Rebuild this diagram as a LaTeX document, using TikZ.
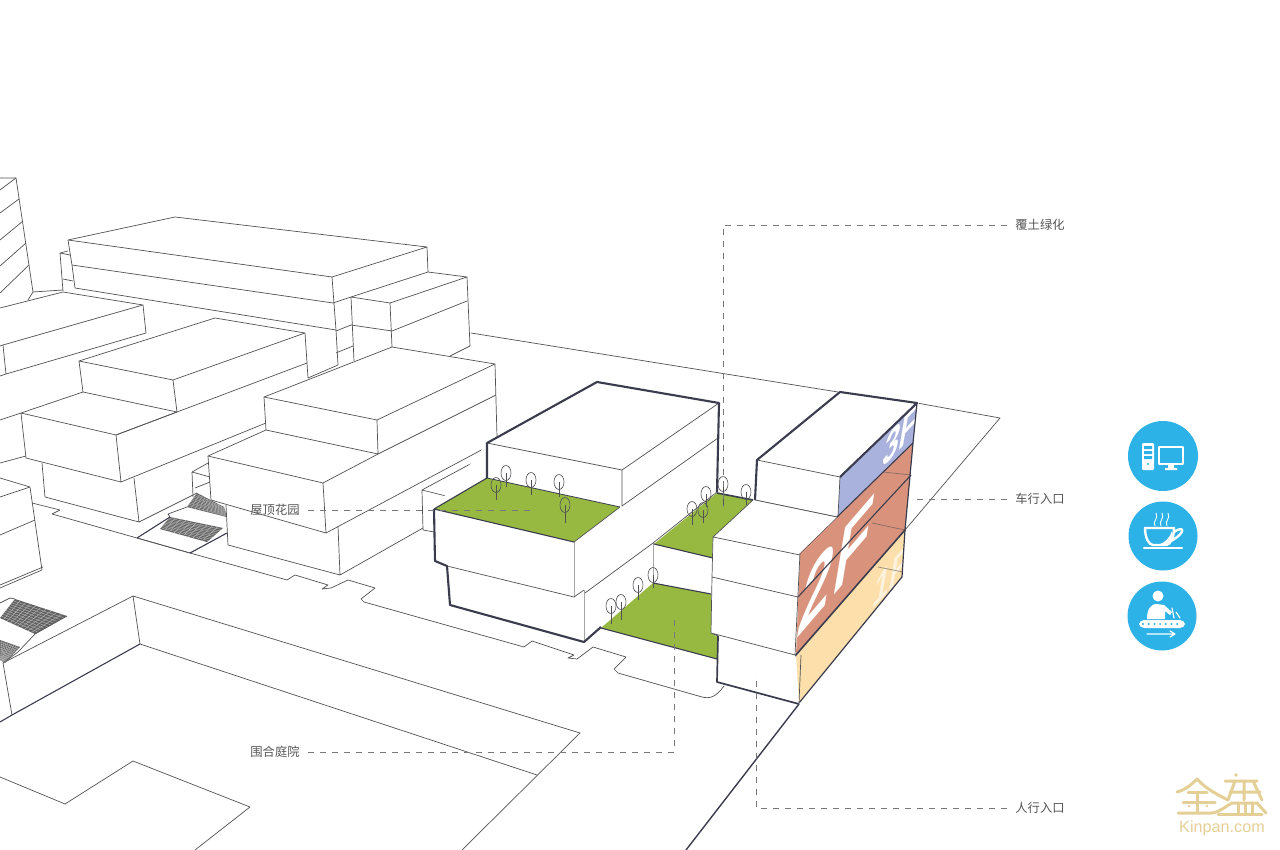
\documentclass[tikz,border=0pt]{standalone}
\usepackage{fontspec}
\setmainfont{Liberation Sans}
\newfontfamily\cjk{Noto Sans CJK SC}
\usepackage{xcolor}
\usetikzlibrary{calc}
\definecolor{thinink}{RGB}{82,82,86}
\definecolor{darkink}{RGB}{58,60,78}
\definecolor{leadergray}{RGB}{120,120,120}
\definecolor{labelgray}{RGB}{85,85,85}
\definecolor{roofgreen}{RGB}{151,185,66}
\definecolor{floorblue}{RGB}{168,178,220}
\definecolor{floorred}{RGB}{217,147,124}
\definecolor{flooryellow}{RGB}{252,223,170}
\definecolor{iconblue}{RGB}{44,178,230}
\definecolor{logogold}{RGB}{228,207,150}
\newcommand{\stairgrid}[4]{%
  \fill[black!62] (#1) -- (#2) -- (#3) -- (#4) -- cycle;
  \foreach \st in {.1,.2,...,.95}{
    \draw[white!45!gray, line width=.2pt] ($(#1)!\st!(#2)$) -- ($(#4)!\st!(#3)$);
    \draw[white!45!gray, line width=.2pt] ($(#1)!\st!(#4)$) -- ($(#2)!\st!(#3)$);
  }}
\begin{document}
\begin{tikzpicture}[x=.5pt, y=-.5pt,
  thinline/.style={draw=thinink, line width=.35pt, line join=round},
  softline/.style={draw=gray!70, line width=.45pt},
  heavyline/.style={draw=darkink, line width=1.05pt, line join=round},
  midline/.style={draw=darkink, line width=.55pt, line join=round},
  leader/.style={draw=leadergray, line width=.38pt, dash pattern=on 3pt off 3pt},
  callout/.style={text=labelgray, inner sep=4pt, font=\cjk\fontsize{6.15}{7}\selectfont},
  tree/.style={draw=thinink, line width=.3pt},
  floorlabel/.style={text=white, anchor=base west, inner sep=0pt, transform shape, font=\fontsize{48}{50}\selectfont},
  iconstroke/.style={draw=white, line width=1.2pt, line cap=round, line join=round},
  logostroke/.style={draw=logogold, line width=1.5pt, line cap=round, line join=round}]
  \useasboundingbox (0,0) rectangle (1280,850);
  \clip (0,0) rectangle (1280,850);

  % site and road
  \draw[thinline] (471,333) -- (838,392);
  \draw[thinline] (917,403) -- (1000,418) -- (905,530);
  \draw[heavyline, line width=.7pt] (799,704) -- (686,850);
  \draw[thinline] (32,503) -- (60,510) -- (52,514) -- (190,553) -- (287,580) -- (295,575) -- (328,585) -- (322,589) -- (331,588) -- (348,580) -- (375,588) -- (361,599) -- (364,602) -- (524,647) -- (532,641) -- (574,655) -- (568,658) -- (577,659) -- (593,647) -- (626,657) -- (614,669) -- (618,673) -- (702,697) .. controls (710,699) and (716,697) .. (724,686);
  \draw[thinline] (133,596) -- (580,733) -- (462,850);
  \draw[thinline] (140,644) -- (537,775);
  \draw[thinline] (3,663) -- (133,596) -- (140,644);
  \draw[thinline] (3,663) -- (12,715);
  \draw[midline] (140,644) -- (12,715) -- (0,722);
  \draw[thinline] (0,777) -- (65,804) -- (133,761) -- (250,807) -- (195,850);

  % stairs
  \stairgrid{197,493}{224,507}{227,517}{187,507}
  \stairgrid{170,517}{223,528}{207,542}{160,529}
  \stairgrid{15,599}{67,616}{35,634}{0,618}
  \stairgrid{0,640}{20,647}{5,663}{0,660}
  \draw[midline] (137,538) -- (170,517);
  \draw[midline] (190,553) -- (227,533);
  \draw[thinline] (137,538) -- (190,553);
  \draw[thinline] (168,514) -- (187,507) (170,517) -- (168,514);
  \draw[thinline] (192,472) -- (208,463) (192,472) -- (193,497) (192,472) -- (210,477) (195,488) -- (210,482);
  \draw[thinline] (0,603) -- (10,598) -- (15,599) (67,616) -- (35,634) -- (18,652) -- (3,663);

  % tower
  \draw[thinline] (0,178) -- (16,178) -- (33,292) -- (28,300) (33,292) -- (63,290);
  \draw[thinline] (16,178) -- (0,190) (19,199) -- (0,213) (23,221) -- (0,240) (26,243) -- (0,266) (29,265) -- (0,293);

  % long block at the back
  \draw[thinline] (68,240) -- (175,217) -- (427,247) -- (332,277) -- cycle;
  \draw[thinline] (68,240) -- (72,265) -- (75,288) -- (336,330) (72,265) -- (333,303);
  \draw[thinline] (332,277) -- (336,330) -- (338,365);
  \draw[thinline] (427,247) -- (428,272);
  \draw[thinline] (60,253) -- (68,251) (60,253) -- (70,255) (60,253) -- (63,291) (63,279) -- (73,281);
  \draw[thinline] (333,303) -- (351,297) (336,331) -- (351,325) (336,353) -- (353,346);
  \draw[thinline] (351,297) -- (428,272) -- (467,277) -- (390,303) -- cycle;
  \draw[thinline] (467,277) -- (470,346) -- (450,356) (467,301) -- (392,331) (390,303) -- (392,347) (351,297) -- (354,361) (351,325) -- (392,331);

  % blocks on the left
  \draw[thinline] (0,308) -- (63,292) -- (143,305) -- (3,345) -- (0,346);
  \draw[thinline] (143,305) -- (146,333) -- (6,374) -- (3,345) (6,374) -- (0,376);
  \draw[thinline] (79,361) -- (215,318) -- (305,333) -- (173,380) -- cycle;
  \draw[thinline] (79,361) -- (83,392) (173,380) -- (177,412) (305,333) -- (307,363) -- (308,378) -- (338,365);
  \draw[thinline] (21,413) -- (83,392) -- (177,412) -- (116,435) -- cycle;
  \draw[thinline] (21,413) -- (26,458) -- (121,482) -- (116,435) -- (307,363) (121,482) -- (266,423);
  \draw[thinline] (21,413) -- (0,420) (26,456) -- (0,463);
  \draw[thinline] (42,463) -- (45,497) -- (139,522) -- (134,478) (139,522) -- (197,493);
  \draw[thinline] (0,478) -- (30,487) -- (0,497) (30,487) -- (42,570) -- (0,588) (35,520) -- (0,535) (43,567) -- (0,585);

  % block beside the main building
  \draw[thinline] (264,397) -- (392,347) -- (495,364) -- (377,420) -- cycle;
  \draw[thinline] (264,397) -- (266,430) -- (378,454) -- (377,420) (378,454) -- (496,395);
  \draw[thinline] (495,364) -- (497,437);
  \draw[thinline] (266,430) -- (208,456) -- (323,483) -- (378,454);
  \draw[thinline] (208,456) -- (211,500) -- (326,533) -- (323,483) (326,533) -- (487,447);
  \draw[thinline] (226,505) -- (228,545) -- (340,575) -- (338,526) (340,575) -- (423,528);
  \draw[thinline] (422,490) -- (423,530) -- (434,532) (422,490) -- (450,497) (422,490) -- (487,455);

  % main building
  \fill[white] (434,509) -- (487,443) -- (597,382) -- (719,403) -- (717,492) -- (601,628) -- (584,642) -- (450,605) -- (447,566) -- (435,561) -- cycle;
  \fill[roofgreen] (434,509) -- (487,478) -- (620,507) -- (574,542) -- cycle;
  \fill[roofgreen] (601,628) -- (653,583) -- (711,594) -- (711,633) -- (718,635) -- (717,659) -- cycle;
  \fill[roofgreen] (654,544) -- (717,493) -- (753,500) -- (713,537) -- (712,558) -- cycle;
  \draw[midline, line width=.4pt] (487,478) -- (620,507);
  \draw[midline] (434,509) -- (574,542) (434,509) -- (487,478);
  \draw[thinline] (487,443) -- (622,470) -- (719,403) (622,470) -- (622,506) -- (718,438);
  \draw[softline] (574,542) -- (574,597) (584,590) -- (584,642) (653,543) -- (653,583);
  \draw[thinline] (574,542) -- (620,507);
  \draw[thinline] (447,566) -- (574,597) -- (584,590) (585,593) -- (653,543) -- (717,492);
  \draw[heavyline] (487,478) -- (487,443) -- (597,382) -- (719,403) -- (717,492);
  \draw[heavyline] (434,509) -- (435,561) -- (447,566) -- (450,605) -- (584,642) -- (601,627);
  \draw[midline] (601,628) -- (717,659) (653,583) -- (711,594) (654,544) -- (713,558);
  \draw[midline, line width=.8pt] (717,493) -- (753,500);

  % right building with the floors
  \fill[floorblue] (840,477) -- (917,403) -- (913,443) -- (838,516) -- cycle;
  \fill[floorred] (838,516) -- (913,443) -- (905,530) -- (796,655) -- (800,553) -- cycle;
  \fill[flooryellow] (796,655) -- (905,530) -- (902,577) -- (799,703) -- cycle;
  \node[floorlabel, font=\bfseries\fontsize{48}{50}\selectfont, cm={.6,.7,.17,1.02,(795,641)}] (twof) at (0,0) {2\hspace{3pt}F};
  \node[floorlabel, font=\bfseries\fontsize{24}{26}\selectfont, cm={.6,.65,.17,1,(881,470)}] (threef) at (0,0) {3F};
  \node[floorlabel, opacity=.6, font=\bfseries\fontsize{24}{26}\selectfont, cm={.6,.65,.17,1,(871,611)}] (onef) at (0,0) {1F};
  \draw[thinline, draw opacity=.6] (883,472) -- (911,475) (872,523) -- (905,530) (878,567) -- (903,572);
  \draw[heavyline] (755,500) -- (757,460) -- (840,392) -- (917,403) -- (840,477);
  \draw[midline, line width=.6pt] (917,403) -- (913,443) -- (905,530) -- (902,577) -- (799,703);
  \draw[thinline] (757,460) -- (840,477) -- (838,516);
  \draw[thinline] (755,500) -- (837,517);
  \draw[midline] (800,553) -- (913,443) (798,597) -- (911,475);
  \draw[heavyline, line width=.8pt] (795,656) -- (905,530);
  \fill[white] (713,537) -- (755,500) -- (837,517) -- (800,553) -- (798,597) -- (795,655) -- (799,704) -- (717,682) -- (718,637) -- (711,633) -- (712,577) -- cycle;
  \draw[thinline] (755,500) -- (837,517) (753,500) -- (713,537) -- (800,555) (713,537) -- (712,577) -- (711,633) -- (795,655) (712,577) -- (798,597) (800,553) -- (795,655) (801,655) -- (799,703) (711,633) -- (718,636);
  \draw[heavyline, line width=.85pt] (718,636) -- (717,682) -- (799,704);

  % trees
  \foreach \tx/\ty/\sy in {506/473/487, 496/485/500, 531/480/495, 559/482/497, 565/505/523, 692/509/525, 703/510/523, 706/494/507, 723/484/507, 746/492/505, 611/606/624, 621/602/620, 638/585/600, 653/575/588}{
    \draw[tree] (\tx,\ty) ellipse [x radius=5, y radius=7.5];
    \draw[tree] (\tx,\ty) -- (\tx,\sy);
  }

  % callouts
  \node[callout] (turf) at (1040,225) {覆土绿化};
  \node[callout] (cars) at (1040,499) {车行入口};
  \node[callout] (walk) at (1040,808) {人行入口};
  \node[callout] (roof) at (275,510) {屋顶花园};
  \node[callout] (yard) at (275,752) {围合庭院};
  \coordinate (turfend) at (723,507);
  \coordinate (carsend) at (912,499);
  \coordinate (walkend) at (756,675);
  \coordinate (roofend) at (532,510);
  \coordinate (yardend) at (674,618);
  \draw[leader] (turf.west) -| (turfend);
  \draw[leader] (cars.west) -- (carsend);
  \draw[leader] (walk.west) -| (walkend);
  \draw[leader] (roof.east) -- (roofend);
  \draw[leader] (yard.east) -| (yardend);

  % icons
  \fill[iconblue] (1163,456) circle [radius=35];
  \fill[iconblue] (1163,536) circle [radius=34.5];
  \fill[iconblue] (1162,616) circle [radius=34.5];
  \fill[white, rounded corners=.6pt] (1142,443) rectangle (1154,470);
  \fill[iconblue] (1144,446) rectangle (1152,449) (1144,451) rectangle (1152,454) (1144,456) rectangle (1152,459) (1148,464) circle [radius=1.2];
  \draw[iconstroke] (1159,447) rectangle (1183,464);
  \fill[white] (1168,465) rectangle (1174,468) (1165,468) rectangle (1177,470);
  \draw[iconstroke] (1145,528) -- (1174,528) .. controls (1174,538) and (1170,545) .. (1166,545) -- (1153,545) .. controls (1149,545) and (1145,538) .. (1145,528) -- cycle;
  \fill[white] (1172,531) .. controls (1170,538) and (1164,543) .. (1160,544) -- (1166,545) .. controls (1170,545) and (1173,538) .. cycle;
  \draw[iconstroke] (1174,532) .. controls (1184,525) and (1187,532) .. (1171,541);
  \draw[iconstroke] (1144,548) -- (1182,548);
  \foreach \sx in {1155,1161,1167}{
    \draw[iconstroke, line width=.45pt] (\sx,526) .. controls (\sx-3,521) and (\sx+4,519) .. (\sx+1,513);
  }
  \fill[white] (1158,596) circle [radius=5.5];
  \fill[white] (1147,619) .. controls (1147,610) and (1150,604) .. (1157,604) -- (1164,605) -- (1172,612) -- (1170,615) -- (1165,611) -- (1165,619) -- cycle;
  \draw[iconstroke, line width=.6pt] (1172,608) -- (1174,618) (1176,612) -- (1180,618);
  \fill[white, rounded corners=2.5pt] (1139,620) rectangle (1185,628);
  \foreach \dx in {1143,1148.7,...,1182}{
    \fill[iconblue] (\dx,624) circle [radius=1.1];
  }
  \draw[iconstroke, line width=.6pt] (1147,634) -- (1174,634) (1170,631) -- (1175,634) -- (1170,637);

  % logo
  \draw[logostroke] (1177,792) .. controls (1185,790) and (1191,785) .. (1197,779) .. controls (1205,788) and (1216,794) .. (1228,800);
  \draw[logostroke] (1188,792) -- (1207,792) (1183,802) -- (1215,802) (1197,792) -- (1197,813);
  \draw[logostroke] (1178,813) -- (1212,813) .. controls (1220,812) and (1226,806) .. (1232,803) -- (1257,803) -- (1266,813);
  \draw[logostroke] (1225,781) -- (1257,781) (1235,781) -- (1228,800) (1253,781) -- (1262,800) (1230,792) -- (1260,792) (1244,781) -- (1244,800);
  \draw[logostroke] (1238,803) -- (1238,813) (1245,803) -- (1245,813) (1252,803) -- (1252,813) (1218,814) -- (1262,814);
  \fill[logogold] (1236,775) circle [radius=1.8] (1189,806) circle [radius=1.3] (1207,806) circle [radius=1.3];
  \node[text=logogold, inner sep=0pt, font=\fontsize{8.1}{9}\selectfont] (kinpan) at (1222,828) {Kinpan.com};
\end{tikzpicture}
\end{document}
